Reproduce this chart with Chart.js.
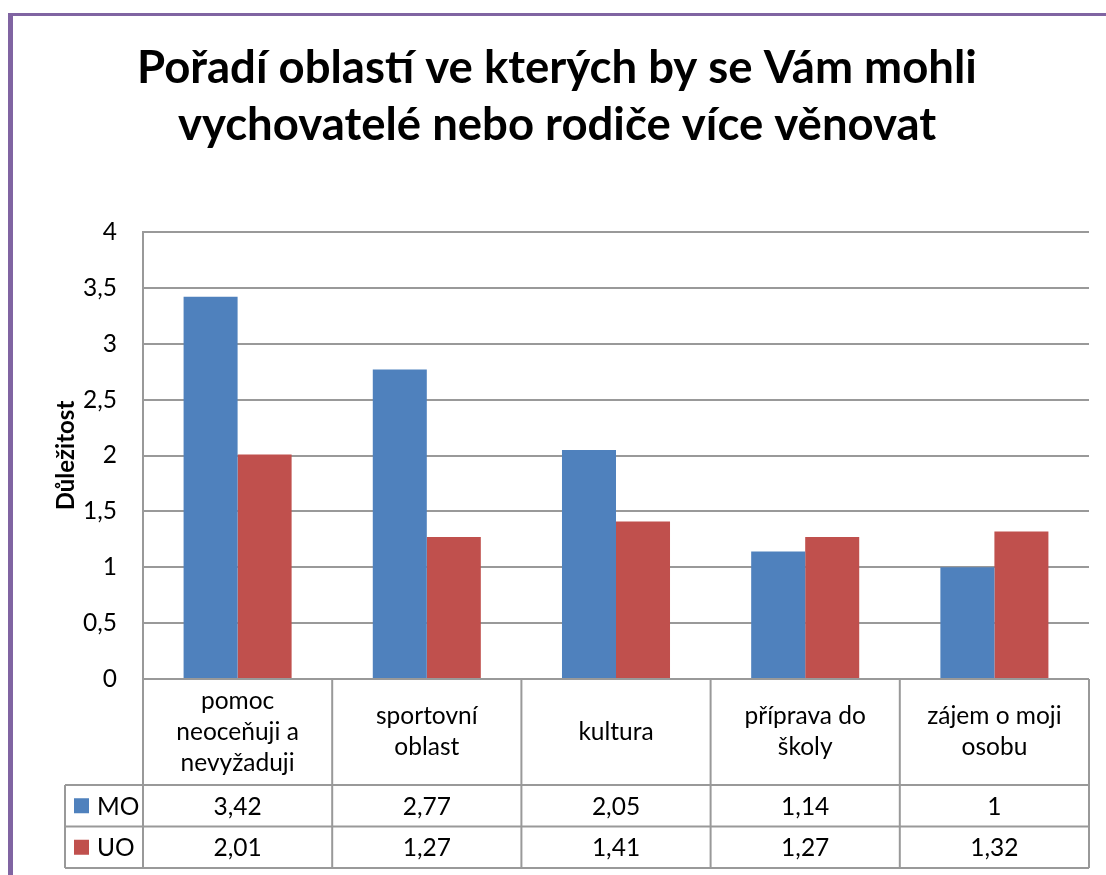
<!DOCTYPE html>
<html><head><meta charset="utf-8">
<script src="https://cdn.jsdelivr.net/npm/chart.js@4/dist/chart.umd.min.js"></script>
<style>html,body{margin:0;padding:0;background:#fff;}canvas{display:block;}</style>
</head><body>
<canvas id="c" width="1106" height="875"></canvas>
<script>
const titleLines = ['Pořadí oblastí ve kterých by se Vám mohli', 'vychovatelé nebo rodiče více věnovat'];
const categories = [
  ['pomoc', 'neoceňuji a', 'nevyžaduji'],
  ['sportovní', 'oblast'],
  ['kultura'],
  ['příprava do', 'školy'],
  ['zájem o moji', 'osobu']
];
const seriesNames = ['MO', 'UO'];
const moValues = [3.42, 2.77, 2.05, 1.14, 1];
const uoValues = [2.01, 1.27, 1.41, 1.27, 1.32];
const yTickLabels = ['0', '0,5', '1', '1,5', '2', '2,5', '3', '3,5', '4'];
const yTitle = 'Důležitost';

const GRID = '#999999';
const FONT = 'Lato';
const fmt = v => String(v).replace('.', ',');

const framePlugin = {
  id: 'frame',
  beforeDraw(chart) {
    const ctx = chart.ctx;
    ctx.save();
    ctx.fillStyle = '#fff';
    ctx.fillRect(0, 0, chart.width, chart.height);
    ctx.fillStyle = '#8064A2';
    ctx.fillRect(8, 13, 5, chart.height - 13);
    ctx.fillRect(8, 13, chart.width - 8, 3);
    ctx.restore();
  }
};

const tablePlugin = {
  id: 'dataTable',
  afterDraw(chart) {
    const {ctx, chartArea} = chart;
    const x = chart.scales.x;
    const n = categories.length;
    const colW = (chartArea.right - chartArea.left) / n;
    const top = chartArea.bottom;
    const headerBottom = top + 106;
    const rowH = 41.5;
    const tableBottom = headerBottom + rowH * chart.data.datasets.length;
    const tableLeft = 65;
    const line = (x1, y1, x2, y2) => { ctx.beginPath(); ctx.moveTo(x1, y1); ctx.lineTo(x2, y2); ctx.stroke(); };
    ctx.save();
    ctx.strokeStyle = GRID;
    ctx.lineWidth = 2;
    for (let i = 0; i < n; i++) {
      const c = x.getPixelForValue(i);
      line(c - colW / 2, top, c - colW / 2, tableBottom);
    }
    line(chartArea.right, top, chartArea.right, tableBottom);
    line(tableLeft, headerBottom, tableLeft, tableBottom);
    for (let r = 0; r <= chart.data.datasets.length; r++) {
      const yy = headerBottom + r * rowH;
      line(tableLeft, yy, chartArea.right, yy);
    }
    ctx.fillStyle = '#000';
    ctx.font = '24.5px ' + FONT;
    ctx.textAlign = 'center';
    ctx.textBaseline = 'middle';
    const hMid = (top + headerBottom) / 2;
    const lh = 31;
    categories.forEach((lines, i) => {
      const c = x.getPixelForValue(i);
      lines.forEach((t, k) => {
        ctx.fillText(t, c, hMid + (k - (lines.length - 1) / 2) * lh);
      });
    });
    chart.data.datasets.forEach((ds, r) => {
      const yMid = headerBottom + r * rowH + rowH / 2;
      ctx.fillStyle = ds.backgroundColor;
      ctx.fillRect(74, yMid - 7.5, 15, 15);
      ctx.fillStyle = '#000';
      ctx.textAlign = 'left';
      ctx.fillText(ds.label, 97, yMid + 1);
      ctx.textAlign = 'center';
      ds.data.forEach((v, i) => {
        ctx.fillText(fmt(v), x.getPixelForValue(i), yMid + 1);
      });
    });
    ctx.restore();
  }
};

Chart.defaults.font.family = FONT;
Chart.defaults.color = '#000';

new Chart(document.getElementById('c'), {
  type: 'bar',
  data: {
    labels: categories,
    datasets: [
      { label: seriesNames[0], data: moValues, backgroundColor: '#4F81BD' },
      { label: seriesNames[1], data: uoValues, backgroundColor: '#C0504D' }
    ]
  },
  options: {
    responsive: false,
    animation: false,
    devicePixelRatio: 1,
    layout: { padding: { left: 25, right: 17, top: 0, bottom: 0 } },
    datasets: { bar: { categoryPercentage: 0.571, barPercentage: 1, borderWidth: 0 } },
    plugins: {
      legend: { display: false },
      tooltip: { enabled: false },
      title: {
        display: true,
        text: titleLines,
        color: '#000',
        font: { size: 45.5, weight: 'bold', family: FONT, lineHeight: '57px' },
        padding: { top: 40, bottom: 78 }
      }
    },
    scales: {
      x: {
        grid: { display: false },
        border: { display: false },
        ticks: { display: false },
        afterFit: s => { s.height = 196; }
      },
      y: {
        min: 0, max: 4,
        ticks: {
          stepSize: 0.5,
          padding: 26,
          font: { size: 24.5, family: FONT },
          color: '#000',
          callback: (v, i) => yTickLabels[i]
        },
        grid: { color: GRID, lineWidth: 2, drawTicks: false },
        border: { display: true, color: GRID, width: 2 },
        title: {
          display: true,
          text: yTitle,
          font: { size: 24, weight: 'bold', family: FONT },
          color: '#000',
          padding: { top: 27, bottom: 0 }
        },
        afterFit: s => { s.width = 118; }
      }
    }
  },
  plugins: [framePlugin, tablePlugin]
});
</script>
</body></html>
